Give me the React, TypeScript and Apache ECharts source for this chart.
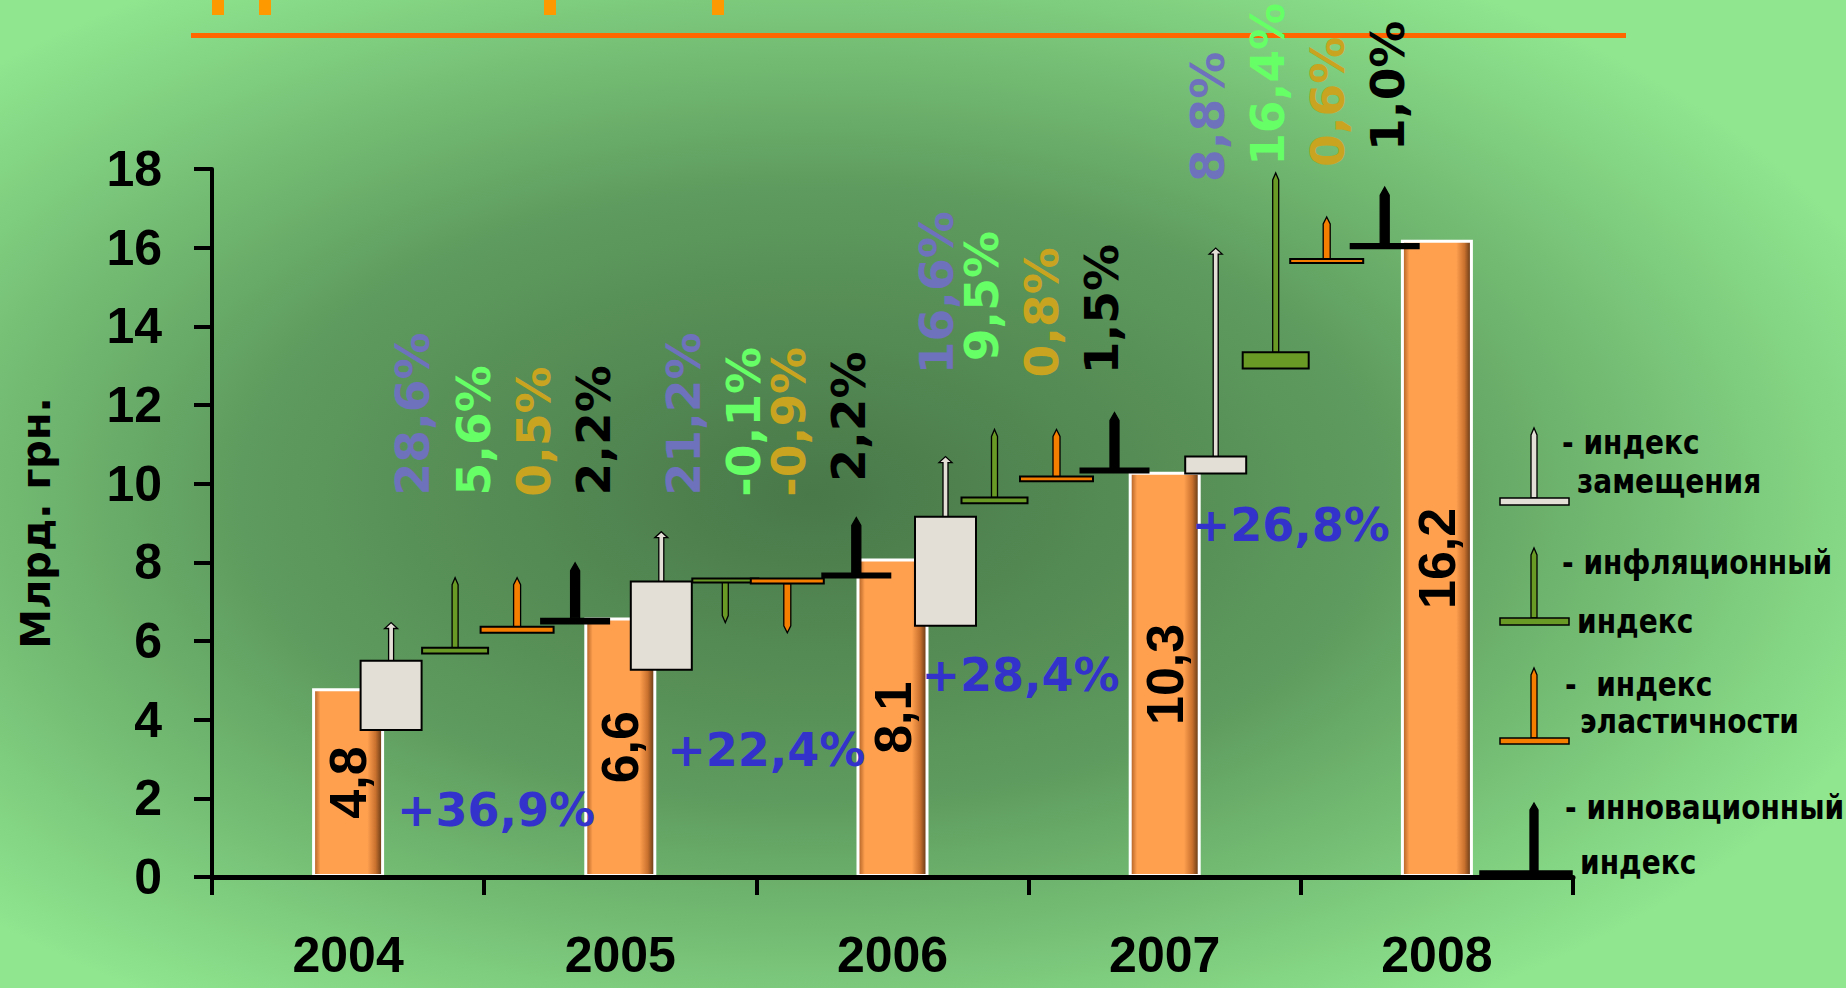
import React, { useEffect, useRef } from "react";
import * as echarts from "echarts";

// ---------- data ----------
const years = ["2004", "2005", "2006", "2007", "2008"];
const totals = [4.8, 6.6, 8.1, 10.3, 16.2];
const growthLabels = ["+36,9%", "+22,4%", "+28,4%", "+26,8%"];

// [open, close, tip] for the years 2004–2007
const replacementIdx = [[3.74, 5.5, 6.47], [5.27, 7.51, 8.78], [6.39, 9.16, 10.69], [10.26, 10.69, 15.99]];
const inflationIdx = [[5.68, 5.83, 7.61], [7.51, 7.59, 6.47], [9.5, 9.65, 11.38], [12.93, 13.34, 17.9]];
const elasticityIdx = [[6.21, 6.36, 7.61], [7.46, 7.59, 6.21], [10.06, 10.18, 11.38], [15.61, 15.71, 16.78]];
const innovationIdx = [[6.42, 6.59, 7.99], [7.59, 7.74, 9.14], [10.26, 10.41, 11.81], [15.96, 16.12, 17.54]];

const replacementPct = ["28,6%", "21,2%", "16,6%", "8,8%"];
const inflationPct = ["5,6%", "-0,1%", "9,5%", "16,4%"];
const elasticityPct = ["0,5%", "-0,9%", "0,8%", "0,6%"];
const innovationPct = ["2,2%", "2,2%", "1,5%", "1,0%"];

const yTicks = [0, 18, 2]; // min, max, interval

// ---------- layout (pixels relative to band centre, band = 272px; label anchors in axis units) ----------
const BAND_REF = 272.2;
const markerDx = {
  replacement: [43, 41, 53, 51],
  inflation: [107, 105, 102, 111],
  elasticity: [169, 167, 164, 162],
  innovation: [227, 236, 222, 220],
};
const labelDx = {
  replacement: [64, 63, 44, 43],
  inflation: [125, 123, 89, 103],
  elasticity: [185, 168, 149, 163],
  innovation: [245, 228, 209, 223],
};
const labelBase = {
  replacement: [9.7, 9.7, 12.78, 17.67],
  inflation: [9.7, 9.67, 13.11, 18.08],
  elasticity: [9.67, 9.67, 12.7, 18.05],
  innovation: [9.7, 10.05, 12.78, 18.46],
};
const growthDx = [148, 146, 128, 126];
const growthAt = [1.7, 3.23, 5.14, 8.95];

type Cfg = {
  key: "replacement" | "inflation" | "elasticity" | "innovation";
  data: number[][];
  pct: string[];
  fill: string;
  labelColor: string;
  boxW: number;
  stemW: number;
  tipH: number;
  headW: number;
  boxStroke: number;
};

const configs: Cfg[] = [
  { key: "replacement", data: replacementIdx, pct: replacementPct, fill: "#E4DFD6", labelColor: "#6E72BC", boxW: 61, stemW: 5, tipH: 6, headW: 13, boxStroke: 2 },
  { key: "inflation", data: inflationIdx, pct: inflationPct, fill: "#6A9A26", labelColor: "#66FF66", boxW: 66, stemW: 6, tipH: 7, headW: 0, boxStroke: 2 },
  { key: "elasticity", data: elasticityIdx, pct: elasticityPct, fill: "#F57D00", labelColor: "#C8A420", boxW: 73, stemW: 7, tipH: 7, headW: 0, boxStroke: 2 },
  { key: "innovation", data: innovationIdx, pct: innovationPct, fill: "#000000", labelColor: "#000000", boxW: 70, stemW: 9, tipH: 8, headW: 0, boxStroke: 0 },
];

function stemPoints(cx: number, ys: number, yt: number, w: number, tipH: number, headW: number) {
  const s = yt < ys ? 1 : -1;
  const h = w / 2;
  if (headW > 0) {
    const hw = headW / 2;
    return [
      [cx - h, ys], [cx - h, yt + s * tipH], [cx - hw, yt + s * tipH], [cx, yt],
      [cx + hw, yt + s * tipH], [cx + h, yt + s * tipH], [cx + h, ys],
    ];
  }
  return [[cx - h, ys], [cx - h, yt + s * tipH], [cx, yt], [cx + h, yt + s * tipH], [cx + h, ys]];
}

function makeMarkerSeries(cfg: Cfg) {
  const rows = cfg.data.map((d, i) => [i, d[0], d[1], d[2], labelBase[cfg.key][i]]);
  return {
    type: "custom",
    name: cfg.key,
    data: rows,
    encode: { x: 0, y: [1, 2, 3] },
    clip: false,
    z: 5,
    silent: true,
    renderItem: (params: any, api: any) => {
      const i = api.value(0);
      const o = api.value(1), c = api.value(2), t = api.value(3), lb = api.value(4);
      const band = api.size([1, 0])[0];
      const k = band / BAND_REF;
      const center = api.coord([i, 0])[0];
      const cx = center + markerDx[cfg.key][i] * k;
      const yo = api.coord([i, o])[1];
      const yc = api.coord([i, c])[1];
      const yt = api.coord([i, t])[1];
      const top = Math.min(yo, yc);
      const bot = Math.max(yo, yc);
      const ys = yt < top ? top : bot;
      const w = cfg.boxW * k;
      const children: any[] = [
        {
          type: "polygon",
          shape: { points: stemPoints(cx, ys, yt, cfg.stemW, cfg.tipH, cfg.headW) },
          style: { fill: cfg.fill, stroke: "#000", lineWidth: 1.3 },
        },
        {
          type: "rect",
          shape: { x: cx - w / 2, y: top, width: w, height: Math.max(bot - top, 4) },
          style: { fill: cfg.fill, stroke: "#000", lineWidth: cfg.boxStroke },
        },
        {
          type: "text",
          x: center + labelDx[cfg.key][i] * k,
          y: api.coord([i, lb])[1],
          rotation: Math.PI / 2,
          style: {
            text: cfg.pct[i],
            fill: cfg.labelColor,
            fontFamily: "DejaVu Sans",
            fontWeight: "bold",
            fontSize: 47,
            align: "left",
            verticalAlign: "middle",
          },
        },
      ];
      return { type: "group", children };
    },
  };
}

const legendItems = [
  { fill: "#E4DFD6", top: 428, baseTop: 498, baseH: 7, x0: 1500, x1: 1569, stemW: 6, lines: [["- индекс", 1562, 443], ["замещения", 1577, 482]] },
  { fill: "#6A9A26", top: 548, baseTop: 618, baseH: 7, x0: 1500, x1: 1569, stemW: 6, lines: [["- инфляционный", 1562, 563], ["индекс", 1577, 622]] },
  { fill: "#F57D00", top: 668, baseTop: 738, baseH: 6, x0: 1500, x1: 1569, stemW: 6, lines: [["-  индекс", 1565, 685], ["эластичности", 1580, 722]] },
  { fill: "#000000", top: 803, baseTop: 871, baseH: 6, x0: 1480, x1: 1572, stemW: 8, lines: [["- инновационный", 1565, 808], ["индекс", 1580, 863]] },
];

function buildGraphic() {
  const els: any[] = [];
  els.push({
    type: "rect",
    z: -100,
    silent: true,
    shape: { x: 0, y: 0, width: 1846, height: 988 },
    style: {
      fill: new echarts.graphic.RadialGradient(0.44, 0.5, 0.62, [
        { offset: 0, color: "#497849" },
        { offset: 0.5, color: "#5e9b5e" },
        { offset: 1, color: "#8fe68f" },
      ]),
    },
  });
  // orange title rule and the cut-off title strokes
  els.push({ type: "rect", shape: { x: 191, y: 33, width: 1435, height: 5 }, style: { fill: "#FF6600" } });
  [212, 259, 544, 712].forEach((x) => {
    els.push({ type: "rect", shape: { x, y: 0, width: 12, height: 15 }, style: { fill: "#FF9900" } });
  });
  // legend glyphs
  legendItems.forEach((it) => {
    const cx = 1534;
    els.push({
      type: "polygon",
      z: 10,
      shape: { points: stemPoints(cx, it.baseTop, it.top, it.stemW, 7, 0) },
      style: { fill: it.fill, stroke: "#000", lineWidth: 1.3 },
    });
    els.push({
      type: "rect",
      z: 10,
      shape: { x: it.x0, y: it.baseTop, width: it.x1 - it.x0, height: it.baseH },
      style: { fill: it.fill, stroke: "#000", lineWidth: 1.5 },
    });
    it.lines.forEach((ln: any) => {
      els.push({
        type: "text",
        z: 10,
        x: ln[1],
        y: ln[2],
        scaleX: 0.85,
        style: {
          text: ln[0],
          fill: "#000",
          fontFamily: "DejaVu Sans",
          fontWeight: "bold",
          fontSize: 33,
          align: "left",
          verticalAlign: "middle",
        },
      });
    });
  });
  return els;
}

export default function App() {
  const ref = useRef<HTMLDivElement>(null);
  useEffect(() => {
    if (!ref.current) return;
    const chart = echarts.init(ref.current, undefined, { renderer: "svg" });
    const option: any = {
      animation: false,
      backgroundColor: "#6aa86a",
      grid: { left: 212, right: 273, top: 169, bottom: 111, containLabel: false, outerBoundsMode: "none" },
      xAxis: {
        type: "category",
        data: years,
        boundaryGap: true,
        z: 6,
        axisLine: { lineStyle: { color: "#000", width: 5 } },
        axisTick: { show: true, length: 18, lineStyle: { color: "#000", width: 4 } },
        axisLabel: {
          margin: 56,
          color: "#000",
          fontFamily: "Liberation Sans",
          fontWeight: "bold",
          fontSize: 50,
          lineHeight: 44,
        },
      },
      yAxis: {
        type: "value",
        min: yTicks[0],
        max: yTicks[1],
        interval: yTicks[2],
        z: 6,
        splitLine: { show: false },
        axisLine: { show: true, lineStyle: { color: "#000", width: 4 } },
        axisTick: { show: true, length: 18, lineStyle: { color: "#000", width: 4 } },
        axisLabel: {
          margin: 50,
          color: "#000",
          fontFamily: "Liberation Sans",
          fontWeight: "bold",
          fontSize: 50,
        },
        name: "Млрд. грн.",
        nameLocation: "middle",
        nameGap: 156,
        nameRotate: 90,
        nameTextStyle: { color: "#000", fontFamily: "DejaVu Sans", fontWeight: "bold", fontSize: 40 },
      },
      graphic: buildGraphic(),
      series: [
        {
          type: "bar",
          data: totals,
          barWidth: 72,
          z: 2,
          silent: true,
          itemStyle: {
            color: new echarts.graphic.LinearGradient(0, 0, 1, 0, [
              { offset: 0, color: "#a85a22" },
              { offset: 0.1, color: "#ffa04f" },
              { offset: 0.78, color: "#ffa04f" },
              { offset: 0.9, color: "#c8702e" },
              { offset: 1, color: "#5a3414" },
            ]),
            borderColor: "#ffffff",
            borderWidth: 3,
          },
          label: {
            show: true,
            position: "inside",
            rotate: 90,
            formatter: (p: any) => String(p.value).replace(".", ","),
            color: "#000",
            fontFamily: "Liberation Sans",
            fontWeight: "bold",
            fontSize: 52,
            textBorderWidth: 0,
          },
        },
        ...configs.map(makeMarkerSeries),
        {
          type: "custom",
          data: growthLabels.map((_, i) => [i, growthAt[i]]),
          encode: { x: 0, y: 1 },
          clip: false,
          z: 6,
          silent: true,
          renderItem: (params: any, api: any) => {
            const i = api.value(0);
            const k = api.size([1, 0])[0] / BAND_REF;
            const p = api.coord([i, api.value(1)]);
            return {
              type: "text",
              x: p[0] + growthDx[i] * k,
              y: p[1],
              style: {
                text: growthLabels[i],
                fill: "#3333CC",
                fontFamily: "DejaVu Sans",
                fontWeight: "bold",
                fontSize: 46,
                align: "center",
                verticalAlign: "middle",
              },
            };
          },
        },
      ],
    };
    chart.setOption(option);
    return () => chart.dispose();
  }, []);
  return (
    <div
      ref={ref}
      style={{ position: "fixed", left: 0, top: 0, width: "1846px", height: "988px" }}
    />
  );
}
